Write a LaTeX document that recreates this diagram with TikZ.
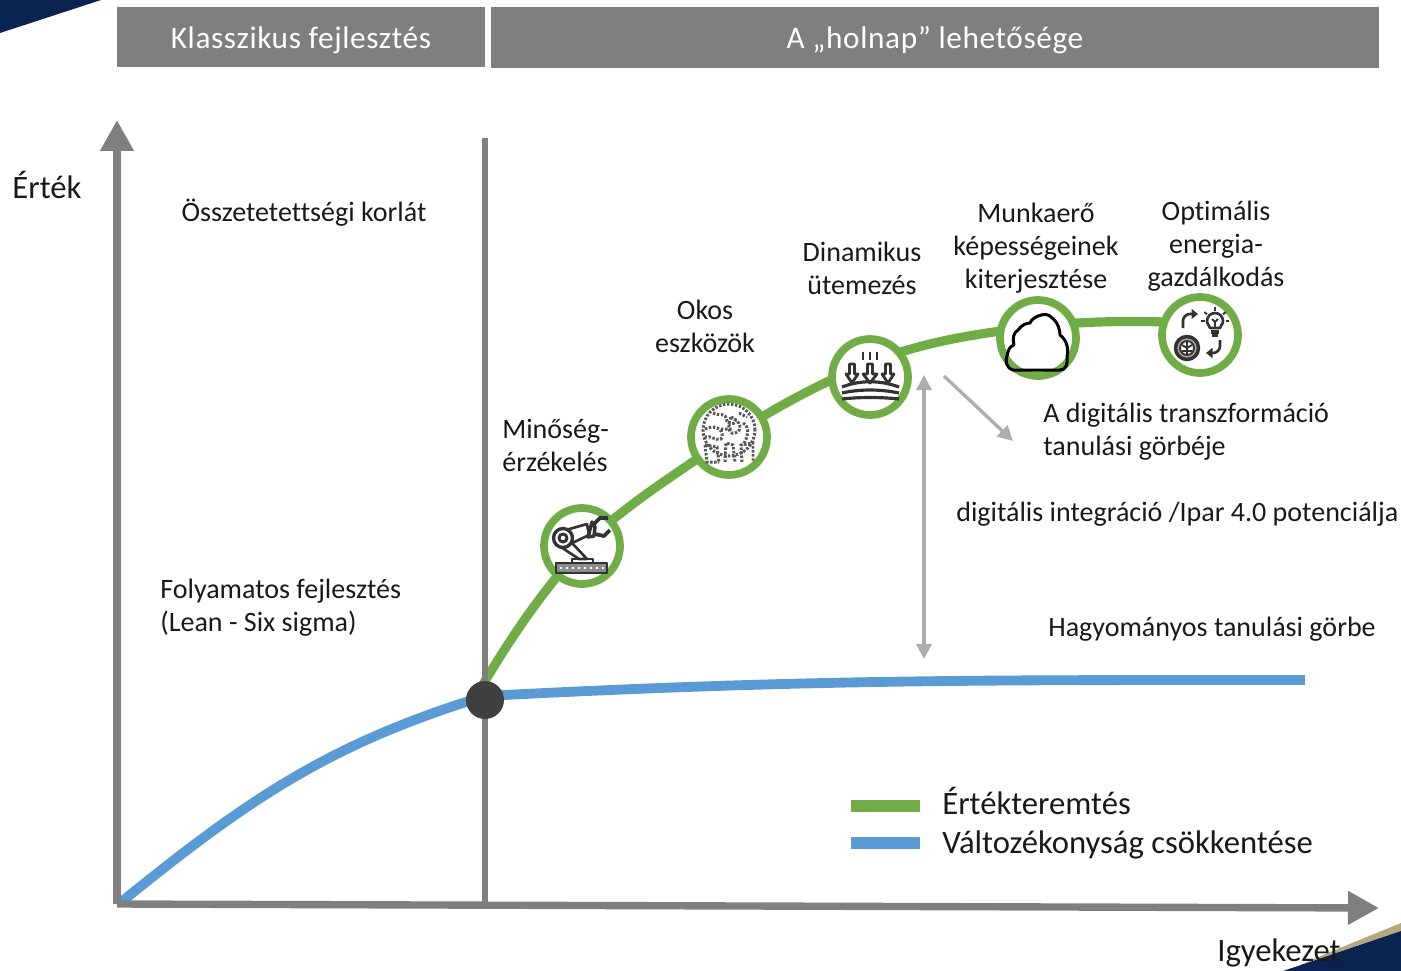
\documentclass[tikz,border=0pt]{standalone}
\usepackage{fontspec}
\setmainfont[Ligatures=NoCommon]{Carlito}
\usetikzlibrary{arrows.meta,backgrounds}
\definecolor{axisgray}{HTML}{7F7F7F}
\definecolor{valuegreen}{HTML}{70AD47}
\definecolor{varblue}{HTML}{5B9BD5}
\definecolor{dotgray}{HTML}{404040}
\definecolor{navy}{HTML}{0B2350}
\definecolor{tan}{HTML}{B5AA7E}
\tikzset{
    head/.style={fill=axisgray, text=white, font=\fontsize{17.8}{20}\selectfont, inner sep=0pt},
    lbl/.style={font=\fontsize{15.95}{18.8}\selectfont, inner sep=0pt, text=black!90},
    bigl/.style={font=\fontsize{18.6}{22}\selectfont, inner sep=0pt, text=black!90},
    stage/.style={draw=valuegreen, fill=white, line width=4.4pt, shape=circle, minimum size=1.52cm, inner sep=0pt},
    axis/.style={draw=axisgray, line width=4.2pt, -{Triangle[length=0.62cm,width=0.64cm]}},
    curvegreen/.style={draw=valuegreen, line width=5.2pt},
    curveblue/.style={draw=varblue, line width=5.6pt},
    icon/.style={draw=black!80, line width=1.5pt, line join=round},
    speck/.style={draw=black!65, line width=1.7pt, dash pattern=on 1.4pt off 0.9pt},
    thinarrow/.style={draw=black!32, line width=1.9pt}
}
\begin{document}
\begin{tikzpicture}[x=0.02cm, y=0.02cm]
    \useasboundingbox (0,0) rectangle (1401,-971);

    % corners
    \fill[navy] (0,-33) -- (101,0) -- (0,0) -- cycle;
    \fill[tan] (1330,-952) -- (1401,-923) -- (1401,-931) -- (1300,-965) -- cycle;
    \fill[navy] (1283,-971) -- (1401,-931) -- (1401,-971) -- cycle;

    % header
    \node(classic)[head, minimum width=7.36cm, minimum height=1.2cm, anchor=north west] at (117,-7) {};
    \node(tomorrow)[head, minimum width=17.76cm, minimum height=1.22cm, anchor=north west] at (491,-7) {};
    \node(classictxt)[head, fill=none] at (301,-40) {\addfontfeature{LetterSpace=2}Klasszikus fejlesztés};
    \node(tomorrowtxt)[head, fill=none] at (935,-40) {\addfontfeature{LetterSpace=2}A „holnap” lehetősége};

    % axes
    \coordinate(origin) at (117,-904);
    \coordinate(ytop) at (117,-120);
    \coordinate(xend) at (1379,-908);
    \coordinate(limtop) at (485,-138);
    \coordinate(limbot) at (485,-905);
    \draw[axis] (origin) -- (ytop);
    \draw[axis] (origin) -- (xend);
    \draw[draw=axisgray, line width=3.6pt] (limtop) -- (limbot);

    % stages
    \node(dot)[fill=dotgray, shape=circle, minimum size=0.76cm, inner sep=0pt] at (485,-700) {};
    \node(robot)[stage] at (582,-546) {};
    \node(tools)[stage] at (729,-437) {};
    \node(sched)[stage] at (870,-377) {};
    \node(cloud)[stage] at (1038,-338) {};
    \node(energy)[stage] at (1200,-335) {};
    \coordinate(pstart) at (120,-903);
    \coordinate(pjoin) at (485,-696);
    \coordinate(pfork) at (482,-686);
    \coordinate(psched) at (868,-363);
    \coordinate(pcloud) at (1036,-326);
    \coordinate(penergy) at (1199,-323);
    \coordinate(pend) at (1305,-680);
    \begin{scope}[on background layer]
        \draw[curvegreen] (pfork) to[out=59,in=230] (robot.center)
            to[out=42,in=215] (tools.center)
            to[out=32,in=204] (psched)
            to[out=20,in=188] (pcloud)
            to[out=5,in=178] (penergy);
        \draw[curveblue] (pstart) to[out=39,in=197] (pjoin)
            to[out=3,in=180] (pend);
    \end{scope}

    % vertical and diagonal arrows
    \coordinate(gaptop) at (924,-375);
    \coordinate(gapbot) at (924,-659);
    \coordinate(diag1) at (944,-376);
    \coordinate(diag2) at (1013,-441);
    \draw[thinarrow, {Triangle[length=0.3cm,width=0.3cm]}-{Triangle[length=0.3cm,width=0.3cm]}] (gaptop) -- (gapbot);
    \draw[thinarrow, -{Triangle[length=0.3cm,width=0.3cm]}] (diag1) -- (diag2);

    % labels
    \node(value)[bigl] at (47,-185) {Érték};
    \node(limit)[lbl] at (304,-213) {Összetetettségi korlát};
    \node(lean)[lbl, align=left, anchor=west] at (160,-608) {Folyamatos fejlesztés\\(Lean - Six sigma)};
    \node(quality)[lbl, align=left, anchor=west] at (502,-445) {Minőség-\\érzékelés};
    \node(smart)[lbl, align=center] at (705,-326) {Okos\\eszközök};
    \node(dynamic)[lbl, align=center] at (862,-268) {Dinamikus\\ütemezés};
    \node(workers)[lbl, align=center] at (1036,-248) {Munkaerő\\képességeinek\\kiterjesztése};
    \node(optimal)[lbl, align=center] at (1216,-246) {Optimális\\energia-\\gazdálkodás};
    \node(digital)[lbl, align=left, anchor=west] at (1043,-432) {A digitális transzformáció\\tanulási görbéje};
    \node(potential)[lbl, anchor=west] at (956,-514) {digitális integráció /Ipar 4.0 potenciálja};
    \node(classiccurve)[lbl, anchor=west] at (1048,-629) {Hagyományos tanulási görbe};
    \node(effort)[bigl, anchor=west] at (1217,-953) {Igyekezet};

    % legend
    \coordinate(lg1) at (851,-806);
    \coordinate(lg2) at (920,-806);
    \coordinate(lb1) at (851,-843);
    \coordinate(lb2) at (920,-843);
    \draw[draw=valuegreen, line width=6.4pt] (lg1) -- (lg2);
    \draw[draw=varblue, line width=6.4pt] (lb1) -- (lb2);
    \node(legvalue)[bigl, anchor=west] at (942,-801) {Értékteremtés};
    \node(legvar)[bigl, anchor=west] at (942,-845) {Változékonyság csökkentése};

    % robot arm
    \begin{scope}[shift={(robot.center)}]
        \draw[icon, fill=black!45] (-26,-17) rectangle (25,-27);
        \foreach \x in {-21,-15,...,21} \fill[white] (\x,-22) circle (1.4);
        \draw[icon] (-10,-17) -- (-10,-13) -- (11,-13) -- (11,-17);
        \draw[icon, fill=white] (-21,-1) -- (-3,-13) -- (5,-13) -- (-10,3) -- cycle;
        \draw[icon, fill=white] (-16,16) -- (5,22) -- (7,11) -- (-14,1) -- cycle;
        \draw[icon, line width=1.9pt, fill=white] (-19,8) circle (9.5);
        \draw[icon, line width=1.7pt] (-19,8) circle (4);
        \draw[icon, line width=2pt, fill=white] (6,9) -- (10,24) -- (13,19) -- (12,10) -- cycle;
        \draw[icon, line width=2.2pt] (11,21) -- (18,28) -- (26,28);
        \draw[icon, line width=2.2pt] (13,12) -- (22,10) -- (28,16);
    \end{scope}

    % globe with hands
    \begin{scope}[shift={(tools.center)}]
        \draw[speck] (0,7) circle (26);
        \draw[speck] (-24,8) .. controls (-10,14) and (-4,4) .. (-8,-2) .. controls (-14,-4) and (-18,2) .. (-24,0);
        \draw[speck] (-16,24) .. controls (-8,20) and (-4,26) .. (-2,16) .. controls (2,10) and (8,14) .. (6,20);
        \draw[speck] (2,20) .. controls (12,16) and (14,6) .. (6,4) .. controls (0,2) and (-2,10) .. (2,20);
        \draw[speck] (14,14) .. controls (22,10) and (18,-2) .. (14,-8);
        \draw[speck] (-8,8) -- (4,8) (10,24) -- (18,20);
        \draw[speck] (-24,-8) -- (-12,-10) -- (-10,-25);
        \draw[speck] (-24,-8) -- (-22,-25) -- (-10,-25);
        \draw[speck] (-4,-25) -- (-3,-6) -- (4,-8) -- (6,-25);
        \draw[speck] (13,-25) -- (12,-8) -- (24,-6) -- (24,-25);
    \end{scope}

    % arrows pressing on layers
    \begin{scope}[shift={(sched.center)}]
        \foreach \x in {-7,0,7} \draw[icon, line width=1.3pt] (\x,25) -- (\x,17);
        \foreach \x/\w in {-18/6,0/7,18/6} \draw[icon, line width=1.6pt, fill=white] (\x-2.5,13) -- (\x+2.5,13) -- (\x+2.5,3) -- (\x+\w,3) -- (\x,-6) -- (\x-\w,3) -- (\x-2.5,3) -- cycle;
        \draw[icon, line width=1.8pt] (-28,-10) .. controls (-10,-3) and (10,-3) .. (29,-10);
        \draw[icon, line width=1.8pt] (-28,-16) .. controls (-10,-12) and (10,-12) .. (29,-16);
        \draw[icon, line width=1.8pt] (-28,-22) .. controls (-10,-20) and (10,-20) .. (29,-22);
    \end{scope}

    % cloud
    \begin{scope}[shift={(cloud.center)}]
        \draw[icon, draw=black, line width=1.7pt] (-25,-32) .. controls (-32,-30) and (-33,-22) .. (-31,-18)
            .. controls (-30,-12) and (-28,-8) .. (-24,-7)
            .. controls (-26,0) and (-24,6) .. (-20,8)
            .. controls (-16,13) and (-12,15) .. (-8,15)
            .. controls (-6,21) and (8,27) .. (13,21)
            .. controls (20,16) and (22,8) .. (22,3)
            .. controls (29,-2) and (31,-12) .. (29,-18)
            .. controls (30,-26) and (28,-32) .. (22,-32) -- cycle;
    \end{scope}

    % brain and bulb
    \begin{scope}[shift={(energy.center)}]
        \draw[icon, line width=1.5pt] (10,7) .. controls (10,10) and (7,10) .. (7,14) arc[start angle=180, end angle=0, radius=8] .. controls (23,10) and (20,10) .. (20,7) -- cycle;
        \draw[icon, line width=2pt] (11,3) -- (19,3) (12,0) -- (18,0);
        \draw[icon, line width=1.1pt] (15,14) -- (15,8) (12,16) -- (15,13) -- (18,16);
        \foreach \a in {0,40,90,140,180} \draw[icon, line width=1.1pt] (15,14) ++(\a:10.5) -- ++(\a:3.5);
        \draw[icon, line width=1.5pt, rounded corners=4pt, -{Triangle[length=0.13cm,width=0.2cm]}] (-17,7) -- (-17,21) -- (-2,21);
        \draw[icon, line width=1.5pt, rounded corners=4pt, -{Triangle[length=0.13cm,width=0.2cm]}] (20,-5) -- (20,-18) -- (6,-18);
        \draw[icon, line width=2pt, fill=black!35] (-13,-13) circle (11.5);
        \draw[icon, line width=1.1pt, fill=white] (-13,-13) circle (7);
        \draw[icon, line width=1.1pt] (-13,-20) -- (-13,-6) (-18,-10) -- (-13,-13) -- (-8,-10) (-18,-16) -- (-13,-16) (-13,-16) -- (-8,-16);
    \end{scope}
\end{tikzpicture}
\end{document}
